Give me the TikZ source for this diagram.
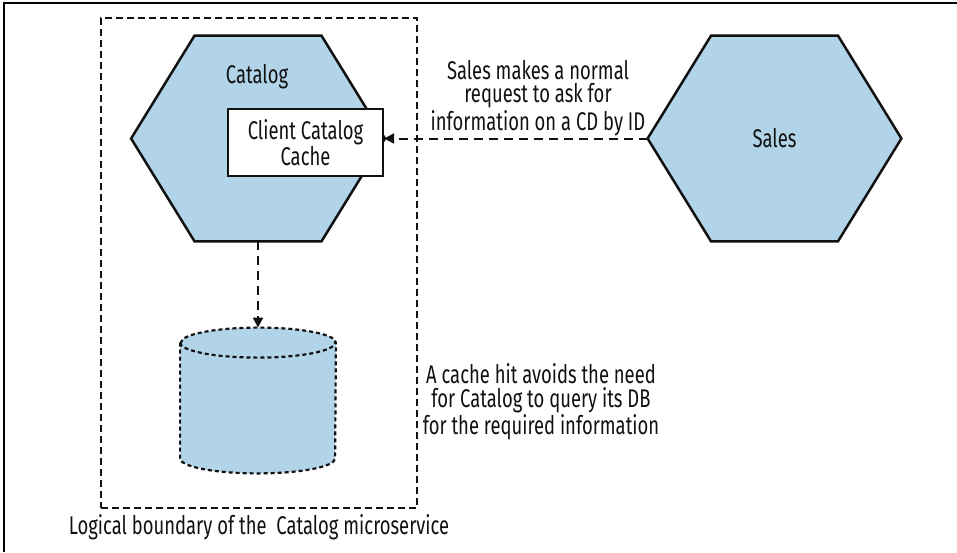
\documentclass[tikz,border=0pt]{standalone}
\usepackage{fontspec}
\setmainfont[FakeStretch=0.72]{Fira Sans}
\usetikzlibrary{arrows.meta,calc}
\definecolor{ink}{HTML}{111111}
\definecolor{hexfill}{HTML}{B2D4E9}
\newcommand{\lbl}{\fontsize{12.8}{11.8}\selectfont}
\newcommand{\hexpath}[1]{%
  \draw[service] (#1.west)
    -- ($(#1.north west)!.25!(#1.north east)$) -- ($(#1.north west)!.75!(#1.north east)$)
    -- (#1.east)
    -- ($(#1.south west)!.75!(#1.south east)$) -- ($(#1.south west)!.25!(#1.south east)$)
    -- cycle;}
\tikzset{
 every node/.append style={font=\lbl,text=ink,align=center},
 hexframe/.style={minimum width=126.5pt,minimum height=102.5pt,inner sep=0pt},
 service/.style={draw=ink,fill=hexfill,line width=1.25pt,line join=miter},
 cachebox/.style={draw=ink,fill=white,line width=1.1pt,minimum width=77.5pt,minimum height=33.5pt,inner sep=0pt},
 dbframe/.style={minimum width=77.5pt,minimum height=72.5pt,inner sep=0pt},
 store/.style={draw=ink,fill=hexfill,line width=1.1pt,dash pattern=on 2pt off 1.5pt},
 boundary/.style={draw=ink,line width=1pt,dash pattern=on 3.5pt off 2pt},
 call/.style={-{Triangle[length=5pt,width=5pt]},draw=ink,line width=1pt,dash pattern=on 4.5pt off 3pt},
 note/.style={inner sep=0pt},
}
\begin{document}
\begin{tikzpicture}[x=0.5pt,y=-0.5pt]
\useasboundingbox (0,0) rectangle (957,552);
\draw[line width=0.8pt] (4,552) -- (4,3) -- (957,3);

\node[boundary,minimum width=158pt,minimum height=245pt] (bound) at (259,263) {};

% services
\node[hexframe] (catalog) at (258,138.5) {};
\hexpath{catalog}
\node (catname) at (257,77) {Catalog};
\node[cachebox] (cache) at (305.5,142.5) {Client Catalog\\Cache};
\node[hexframe] (sales) at (774.5,138.5) {};
\hexpath{sales}
\node (salesname) at (sales) {Sales};

% database
\node[dbframe] (db) at (258,400.5) {};
\draw[store] ($(db.north west)+(0,15)$) -- ($(db.south west)+(0,-15)$)
  arc[start angle=180,end angle=0,x radius=77.5,y radius=15]
  -- ($(db.north east)+(0,15)$)
  arc[start angle=0,end angle=-180,x radius=77.5,y radius=15] -- cycle;
\draw[store,fill=none] ($(db.north west)+(0,15)$)
  arc[start angle=180,end angle=0,x radius=77.5,y radius=15];

\draw[call] (sales.west) -- (sales.west -| cache.east);
\draw[call] (catalog.south) -- (db.north);

\node[note] (req) at (538,98) {Sales makes a normal\\request to ask for\\information on a CD by ID};
\node[note] (hit) at (541,402) {A cache hit avoids the need\\for Catalog to query its DB\\for the required information};
\node[note] (boundlbl) at (259,527) {Logical boundary of the\ \ Catalog microservice};
\end{tikzpicture}
\end{document}
